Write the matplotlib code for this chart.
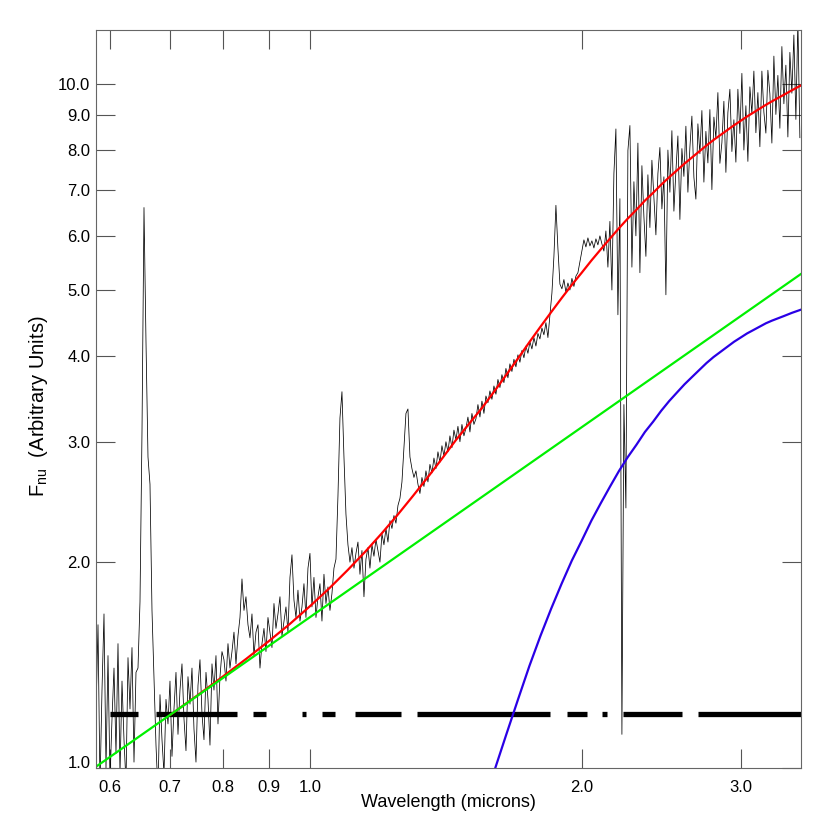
import numpy as np
import matplotlib.pyplot as plt
from matplotlib.ticker import FixedLocator, FormatStrFormatter, NullLocator

plt.rcParams['font.family'] = ['Liberation Sans', 'DejaVu Sans']
plt.rcParams['mathtext.fontset'] = 'custom'
plt.rcParams['mathtext.rm'] = 'Liberation Sans'

# observed spectrum, sampled evenly in log wavelength from 0.579 to 3.49 microns
flux = [
    # 0.58 - 0.645
    1.20, 1.62, 0.94, 1.30, 1.68, 1.00, 1.46, 0.96, 1.18, 1.40,
    1.05, 1.52, 0.98, 1.34, 1.10, 0.95, 1.45, 1.22, 1.50, 1.02, 1.38,
    # H alpha
    1.40, 1.75, 3.10, 6.60, 4.20, 2.85, 2.60, 1.70, 1.35, 1.08,
    # 0.68 - 0.80
    0.92, 1.28, 1.10, 0.98, 1.26, 1.16, 1.34, 1.04, 1.22, 1.38,
    1.12, 1.30, 1.42, 1.18, 1.06, 1.36, 1.24, 1.40, 1.14, 1.02,
    1.32, 1.44, 1.20, 1.10, 1.38, 1.26, 1.08, 1.42, 1.30, 1.46,
    1.16, 1.36, 1.48,
    # 0.80 - 1.00
    1.44, 1.34, 1.52, 1.40, 1.48, 1.58, 1.42, 1.56, 1.66, 1.89,
    1.70, 1.78, 1.62, 1.55, 1.68, 1.46, 1.58, 1.62, 1.40, 1.52,
    1.60, 1.48, 1.66, 1.58, 1.50, 1.74, 1.60, 1.68, 1.78, 1.56,
    1.64, 1.72, 1.58, 1.90, 2.05, 1.76, 1.66, 1.82, 1.64, 1.72,
    1.86, 1.66, 1.96, 2.06,
    # 1.00 - 1.32 (Pa gamma, Pa beta)
    1.72, 1.90, 1.66, 1.78, 1.86, 1.64, 1.92, 1.74, 1.84, 1.70,
    1.80, 1.96, 2.02, 2.50, 3.25, 3.55, 2.85, 2.35, 2.12, 2.00,
    2.10, 1.96, 2.06, 2.14, 1.92, 2.08, 1.78, 2.02, 2.10, 1.96,
    2.12, 2.04, 2.16, 2.08, 2.00, 2.20, 2.12, 2.24, 2.14, 2.30,
    2.24, 2.34, 2.28, 2.42, 2.48, 2.62, 2.95, 3.30, 3.35, 2.85,
    2.74, 2.66, 2.72,
    # 1.32 - 1.87 (Pa alpha)
    2.60, 2.52, 2.66, 2.58, 2.72, 2.62, 2.78, 2.70, 2.84, 2.74,
    2.90, 2.80, 2.96, 2.86, 3.00, 2.90, 3.06, 2.94, 3.12, 3.02,
    3.16, 3.00, 3.18, 3.06, 3.14, 3.26, 3.10, 3.30, 3.18, 3.24,
    3.40, 3.26, 3.44, 3.30, 3.50, 3.42, 3.56, 3.46, 3.62, 3.52,
    3.70, 3.60, 3.76, 3.66, 3.84, 3.72, 3.90, 3.80, 3.96, 3.86,
    4.02, 3.92, 4.08, 3.98, 4.14, 4.04, 4.20, 4.10, 4.26, 4.14,
    4.32, 4.24, 4.40, 4.30, 4.48, 4.26, 4.60, 4.95, 5.60, 6.65,
    # 1.88 - 2.13
    5.75, 5.10, 5.02, 5.18, 4.96, 5.12, 5.00, 5.20, 5.06, 5.24,
    5.30, 5.50, 5.70, 5.92, 5.78, 5.96, 5.80, 5.90, 5.76, 5.94,
    5.82, 6.00, 5.84, 5.70, 6.10,
    # 2.14 - 2.35
    5.40, 6.30, 5.00, 7.40, 8.60, 4.60, 6.80, 1.12, 3.40, 2.40,
    8.00, 8.70, 5.40, 7.20, 6.00, 8.20, 5.30, 7.60, 6.40, 5.60,
    # 2.36 - 3.49
    7.37, 6.17, 7.74, 6.82, 6.02, 7.40, 8.08, 6.57, 7.32, 4.92,
    8.01, 6.95, 8.55, 6.52, 7.46, 8.40, 6.34, 8.05, 7.33, 8.68,
    6.95, 8.08, 8.98, 7.31, 6.79, 8.75, 7.91, 9.15, 7.19, 8.53,
    7.67, 9.18, 7.01, 8.95, 8.33, 9.72, 7.66, 8.21, 9.44, 7.43,
    9.09, 9.83, 7.97, 8.87, 7.69, 9.83, 8.47, 10.37, 8.01, 9.30,
    7.71, 9.91, 9.05, 10.45, 8.49, 9.72, 8.10, 10.45, 9.10, 8.48,
    10.48, 9.68, 8.20, 10.99, 9.03, 10.30, 8.62, 11.35, 9.36, 10.66,
    8.37, 11.13, 9.70, 11.80, 8.88, 12.39, 8.35,
]
wave = np.geomspace(0.579, 3.49, len(flux))

# power-law component (green)
pl_wave = [0.58, 3.5]
pl_flux = [1.006, 5.278]

# hot dust component (blue)
bb_wave = [1.55, 1.6, 1.65, 1.7, 1.75, 1.8, 1.85, 1.9, 1.95, 2.0, 2.05,
           2.1, 2.15, 2.2, 2.25, 2.3, 2.35, 2.4, 2.45, 2.5, 2.55, 2.6,
           2.65, 2.7, 2.75, 2.8, 2.85, 2.9, 2.95, 3.0, 3.05, 3.1, 3.15,
           3.2, 3.25, 3.35, 3.42, 3.5]
bb_flux = [0.87, 0.99, 1.12, 1.26, 1.41, 1.56, 1.71, 1.86, 2.01, 2.15, 2.30,
           2.44, 2.58, 2.72, 2.85, 2.97, 3.10, 3.21, 3.33, 3.44, 3.54, 3.64,
           3.73, 3.82, 3.91, 3.99, 4.06, 4.13, 4.20, 4.26, 4.32, 4.37, 4.42,
           4.47, 4.51, 4.58, 4.63, 4.68]

# total model (red)
tot_wave = [0.70, 0.75, 0.80, 0.85, 0.90, 0.95, 1.0, 1.05, 1.1, 1.15, 1.2,
            1.25, 1.3, 1.35, 1.4, 1.45, 1.5, 1.55, 1.6, 1.65, 1.7, 1.75,
            1.8, 1.85, 1.9, 1.95, 2.0, 2.05, 2.1, 2.15, 2.2, 2.25, 2.3,
            2.35, 2.4, 2.45, 2.5, 2.55, 2.6, 2.65, 2.7, 2.75, 2.8, 2.85,
            2.9, 2.95, 3.0, 3.05, 3.1, 3.15, 3.2, 3.25, 3.35, 3.42, 3.5]
tot_flux = [1.196, 1.277, 1.360, 1.445, 1.533, 1.625, 1.725, 1.831, 1.946,
            2.069, 2.202, 2.345, 2.499, 2.661, 2.833, 3.014, 3.186, 3.359,
            3.554, 3.758, 3.972, 4.195, 4.418, 4.641, 4.865, 5.087, 5.300,
            5.522, 5.735, 5.947, 6.159, 6.362, 6.553, 6.756, 6.937, 7.129,
            7.309, 7.480, 7.653, 7.813, 7.975, 8.135, 8.287, 8.427, 8.567,
            8.707, 8.837, 8.968, 9.088, 9.208, 9.327, 9.438, 9.648, 9.796,
            9.958]

# wavelength ranges marked by the thick bars
win_start = [0.600, 0.674, 0.865, 0.980, 1.031, 1.121, 1.314, 1.927, 2.106, 2.222, 2.691]
win_end = [0.645, 0.830, 0.894, 0.990, 1.066, 1.261, 1.845, 2.027, 2.133, 2.584, 3.50]
win_level = 1.2

xticks = [0.6, 0.7, 0.8, 0.9, 1.0, 2.0, 3.0]
yticks = [1.0, 2.0, 3.0, 4.0, 5.0, 6.0, 7.0, 8.0, 9.0, 10.0]

fig = plt.figure(figsize=(8.3, 8.3), dpi=100)
ax = fig.add_axes([96 / 830, 62 / 830, 705 / 830, 738 / 830])

ax.plot(wave, flux, color='black', lw=0.55)
ax.hlines([win_level] * len(win_start), win_start, win_end, color='black', lw=3.8)
ax.plot(tot_wave, tot_flux, color='#ff0000', lw=1.6)
ax.plot(pl_wave, pl_flux, color='#00f000', lw=1.6)
ax.plot(bb_wave, bb_flux, color='#2a00e6', lw=1.6)

ax.set_xscale('log')
ax.set_yscale('log')
ax.set_xlim(0.579, 3.5)
ax.set_ylim(1.0, 12.0)

ax.xaxis.set_major_locator(FixedLocator(xticks))
ax.yaxis.set_major_locator(FixedLocator(yticks))
ax.xaxis.set_minor_locator(NullLocator())
ax.yaxis.set_minor_locator(NullLocator())
ax.xaxis.set_major_formatter(FormatStrFormatter('%.1f'))
ax.yaxis.set_major_formatter(FormatStrFormatter('%.1f'))
ax.tick_params(which='major', direction='in', length=14, width=0.8,
               color='#555555', top=True, right=True, labelsize=12)
ax.tick_params(axis='x', pad=8.5)
ax.tick_params(axis='y', pad=4)
for s in ax.spines.values():
    s.set_color('#666666')
    s.set_linewidth(0.8)

# bottom y label sits on the axis instead of centred on its tick
ax.yaxis.get_major_ticks()[0].label1.set_verticalalignment('baseline')

ax.set_xlabel('Wavelength (microns)', fontsize=13)
ax.set_ylabel(r'F$_{\mathrm{nu}}$  (Arbitrary Units)', fontsize=14.5)
ax.xaxis.set_label_coords(0.5, -0.035)
ax.yaxis.set_label_coords(-0.065, 0.49)

fig.savefig('out.png', dpi=100)
